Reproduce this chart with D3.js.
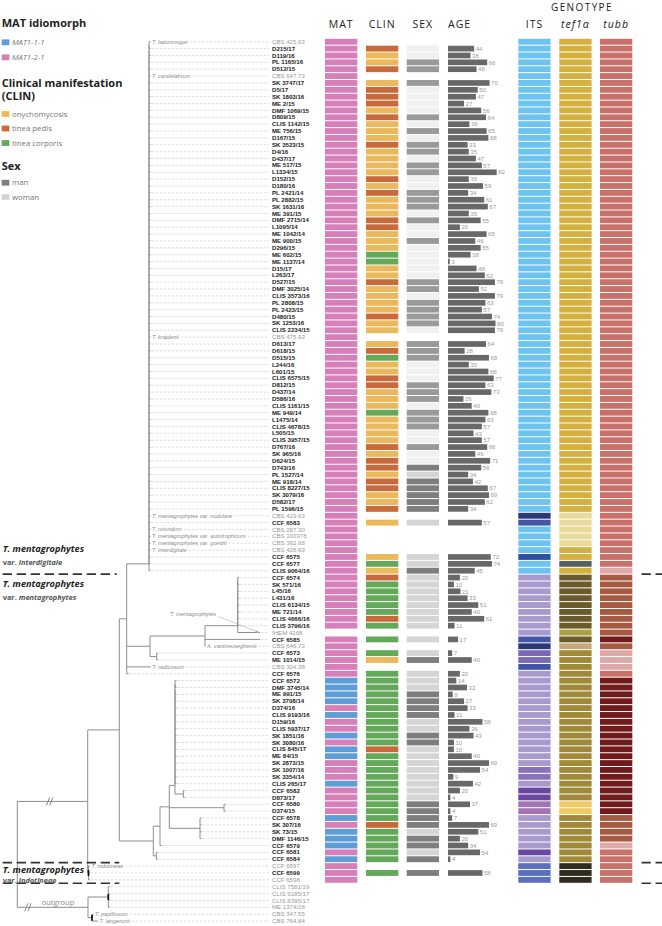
<!DOCTYPE html>
<html><head><meta charset="utf-8">
<script src="https://cdn.jsdelivr.net/npm/d3@7"></script>
<style>body{margin:0;background:#fff}svg{display:block}</style>
</head><body>
<script>
// ---------------- DATA ----------------
const strains = [
"CBS 425.63","D215/17","D119/16","PL 1165/16","D512/15","CBS 647.73","SK 3747/17","D5/17","SK 1803/16","ME 2/15",
"DMF 1069/15","D809/15","CLIS 1142/15","ME 756/15","D167/15","SK 3523/15","D4/16","D437/17","ME 517/15","L1334/15",
"D152/15","D180/16","PL 2421/14","PL 2882/15","SK 1631/16","ME 391/15","DMF 2715/14","L1095/14","ME 1042/14","ME 900/15",
"D296/15","ME 602/15","ME 1137/14","D15/17","L263/17","D527/15","DMF 3025/14","CLIS 3573/16","PL 2808/15","PL 2423/15",
"D480/15","SK 1253/16","CLIS 2234/15","CBS 475.93","D613/17","D618/15","D515/15","L244/16","L601/15","CLIS 6575/15",
"D812/15","D437/14","D586/16","CLIS 1161/15","ME 949/14","L1475/14","CLIS 4678/15","L505/15","CLIS 3957/15","D767/16",
"SK 965/16","D624/15","D743/16","PL 1527/14","ME 918/14","CLIS 8227/15","SK 3079/16","D582/17","PL 1596/15","CBS 429.63",
"CCF 6583","CBS 287.30","CBS 100378","CBS 392.68","CBS 428.63","CCF 6575","CCF 6577","CLIS 9064/16","CCF 6574","SK 571/16",
"L45/16","L431/16","CLIS 6134/15","ME 721/14","CLIS 4666/16","CLIS 3796/16","IHEM 4268","CCF 6585","CBS 646.73","CCF 6573",
"ME 1014/15","CBS 304.38","CCF 6576","CCF 6572","DMF 3745/14","ME 991/15","SK 3708/14","D374/16","CLIS 9193/16","D159/16",
"CLIS 5937/17","SK 1851/16","SK 3080/16","CLIS 845/17","ME 84/15","SK 2873/15","SK 1007/16","SK 3354/14","CLIS 265/17","CCF 6582",
"D873/17","CCF 6580","D374/15","CCF 6578","SK 307/16","SK 73/15","DMF 1146/15","CCF 6579","CCF 6581","CCF 6584",
"CCF 6597","CCF 6599","CCF 6598","CLIS 7581/19","CLIS 9185/17","CLIS 8395/17","ME 1374/18","CBS 347.55","CBS 764.84"];

const refStrains = ["CBS 425.63","CBS 647.73","CBS 475.93","CBS 429.63","CBS 287.30","CBS 100378","CBS 392.68","CBS 428.63",
"IHEM 4268","CBS 646.73","CBS 304.38","CCF 6597","CCF 6598","CLIS 7581/19","CLIS 9185/17","CLIS 8395/17","ME 1374/18","CBS 347.55","CBS 764.84"];

const speciesNames = [["CBS 425.63","T. batonrougei"],["CBS 647.73","T. candelabrum"],["CBS 475.93","T. krajdenii"],
["CBS 429.63","T. mentagrophytes var. nodulare"],["CBS 287.30","T. rotundum"],["CBS 100378","T. mentagrophytes var. autotrophicum"],
["CBS 392.68","T. mentagrophytes var. goetzii"],["CBS 428.63","T. interdigitale"],["CBS 646.73","A. vanbreuseghemii"],
["CBS 304.38","T. radicosum"],["CCF 6597","T. indotineae"],["CBS 347.55","T. papillosum"],["CBS 764.84","T. langeronii"]];
const pointerNote = ["IHEM 4268","T. mentagrophytes"];

// MAT: 1 = MAT1-1-1, 2 = MAT1-2-1
const mat = ["2222222222","2222222222","2222222222","2222222222","2222222222","2222222222","2222222222","2222222222",
"222222-222","2221111212","2121122212","2221211121","222------"].join("");
// CLIN: o onychomycosis, p tinea pedis, c tinea corporis
const clin = ["-poop-oppp","opooopoooo","popoooppoo","occoopoooo","poo-opcoop","pooocoooop","oppoppoop-","o----ocopc",
"ccccpc-c-c","o-cccccccc","cccpcccccc","ccccpccccc","-c-------"].join("");
// SEX: m man, w woman
const sex = ["-wwmm-mwww","wmwmwmmwmm","wwmmmwmwwm","wwwwwmmwmm","mmw-mmmwww","mmmwmmmwwm","wwmwmmmmm-","w----wwmww",
"wwwwww-w-w","m-wwwmmmmw","wmmwwwwwww","wmmmmwmmwm","-m-------"].join("");
const age = [null,44,38,66,48,null,70,50,47,27, 56,64,36,65,68,33,35,47,57,82, 35,59,34,61,67,35,55,20,65,46,
55,38,3,48,62,79,52,79,63,57, 74,80,79,null,64,28,69,35,68,77, 63,73,26,40,68,63,57,43,57,66,
46,71,56,34,42,67,69,62,34,null, 57,null,null,null,null,72,74,45,20,10, 21,33,51,40,61,11,null,17,null,7,
40,null,20,14,32,8,27,33,11,58, 36,43,10,10,40,69,54,9,42,20, 4,37,4,7,69,51,20,34,54,4,
null,58,null,null,null,null,null,null,null];
// genotypes (letter = genotype class)
const its = ["aaaaaaaaaa","aaaaaaaaaa","aaaaaaaaaa","aaaaaaaaaa","aaaaaaaaaa","aaaaaaaaaa","aaaaaaaaan","iaaaabaall",
"lllllllinm","millllllll","llllllvvld","drrllllldl","qqq------"].join("");
const tef = ["gggggggggg","gggggggggg","gggggggggg","gggggggggg","gggggggggg","gggggggggg","gggggggggp","ppppggkgoo",
"ooooooyotu","uuuuuuuuuu","uuuuuuuuuu","ubbuuuuuuu","zzz------"].join("");
const tubb = ["ssssssssss","ssssssssss","ssssssssss","ssssssssss","ssssssssss","ssssssssss","ssssssssss","ssssssslee",
"eeeeeeexel","llsxxxxxxx","xxxxxxxxxx","xxxeeeelss","sss------"].join("");

const cladeBreaks = ["CLIS 9064/16","CCF 6584","CCF 6598"];
// well-supported clades (first and last member)
const supportedClades = [["CCF 6597","CCF 6598"],["CLIS 7581/19","ME 1374/18"],["CBS 347.55","CBS 764.84"]];

// phylogeny (branch lengths, leaves without length get a short tip)
const newick = "((((('CBS 425.63','D215/17','D119/16','PL 1165/16','D512/15','CBS 647.73','SK 3747/17','D5/17','SK 1803/16','ME 2/15','DMF 1069/15','D809/15','CLIS 1142/15','ME 756/15','D167/15','SK 3523/15','D4/16','D437/17','ME 517/15','L1334/15','D152/15','D180/16','PL 2421/14','PL 2882/15','SK 1631/16','ME 391/15','DMF 2715/14','L1095/14','ME 1042/14','ME 900/15','D296/15','ME 602/15','ME 1137/14','D15/17','L263/17','D527/15','DMF 3025/14','CLIS 3573/16','PL 2808/15','PL 2423/15','D480/15','SK 1253/16','CLIS 2234/15','CBS 475.93','D613/17','D618/15','D515/15','L244/16','L601/15','CLIS 6575/15','D812/15','D437/14','D586/16','CLIS 1161/15','ME 949/14','L1475/14','CLIS 4678/15','L505/15','CLIS 3957/15','D767/16','SK 965/16','D624/15','D743/16','PL 1527/14','ME 918/14','CLIS 8227/15','SK 3079/16','D582/17','PL 1596/15','CBS 429.63','CCF 6583','CBS 287.30','CBS 100378','CBS 392.68','CBS 428.63','CCF 6575','CCF 6577','CLIS 9064/16'):0.223,"
 + "((('CCF 6574','SK 571/16','L45/16','L431/16','CLIS 6134/15','ME 721/14','CLIS 4666/16','CLIS 3796/16','IHEM 4268':0.223):0.327,'CCF 6585':0.55,'CBS 646.73':0.005):0.55,('CCF 6573','ME 1014/15'):0.067):0.233,'CBS 304.38':0.24,'CCF 6576':0.02):0.074,"
 + "(((('CCF 6572','DMF 3745/14','ME 991/15','SK 3708/14','D374/16','CLIS 9193/16','D159/16','CLIS 5937/17','SK 1851/16','SK 3080/16','CLIS 845/17','ME 84/15','SK 2873/15','SK 1007/16','SK 3354/14','CLIS 265/17',('CCF 6582','D873/17'):0.083):0.057,('CCF 6580','D374/15'):0.547,('CCF 6578','SK 307/16','SK 73/15','DMF 1146/15'):0.307):0.093,'CCF 6579'):0.067,('CCF 6581','CCF 6584'):0.03):0.34):0.316,"
 + "('CCF 6597','CCF 6599','CCF 6598'):0.008):0.704,"
 + "(('CLIS 7581/19','CLIS 9185/17','CLIS 8395/17','ME 1374/18'):0.203,('CBS 347.55','CBS 764.84':0.06):0.04):0.707);";
const TIP = 0.015;

// ---------------- STYLE ----------------
const W = 662, H = 926;
const FONT = "'Open Sans', 'DejaVu Sans', sans-serif";
const ROWFONT = "'Liberation Sans', Arial, sans-serif";
const palMAT = {"1":"#5f9dd8","2":"#d67fb8"};
const palCLIN = {o:"#ebb95c", p:"#c96a3c", c:"#64a85a"};
const palSEX = {m:"#7e7e7e", w:"#d5d5d5"};
const palSEXfaded = {m:"#9a9a9a", w:"#f0f0f0"};
const SEX_FADE_BEFORE = "D743/16";
const palITS = {a:"#6ec3f1", b:"#2f50a0", n:"#2b3a77", i:"#4455a6", m:"#7a69b3", l:"#a99acd", v:"#8a72bb", d:"#6947a1", r:"#a274b4", q:"#5b6ec0"};
const palTEF = {g:"#d4b13e", p:"#e9da9c", k:"#56605b", o:"#6b5a2b", y:"#a9a13f", t:"#c9a97a", u:"#a08939", b:"#f1c862", z:"#2f2c1e"};
const palTUBB = {s:"#c8706a", l:"#dcaaa8", e:"#a55b42", x:"#711a1b"};

const svg = d3.select("body").append("svg").attr("width", W).attr("height", H)
  .style("font-family", FONT);

// ---------------- SCALES ----------------
const yS = d3.scaleBand().domain(strains).range([38.3, 924.5]);
const bw = yS.bandwidth();
const yc = s => yS(s) + bw / 2;
const xT = d3.scaleLinear().domain([0, 1]).range([17.3, 117.3]);
const xAge = d3.scaleLinear().domain([0, 82]).range([448, 496.7]);
const LABEL_X = 272, LEADER_END = 269;

// ---------------- TREE ----------------
function parseNewick(s) {
  let i = 0;
  function node() {
    const n = {};
    if (s[i] === "(") {
      i++; n.children = [node()];
      while (s[i] === ",") { i++; n.children.push(node()); }
      i++;
    }
    let name = "";
    if (s[i] === "'") { i++; while (s[i] !== "'") name += s[i++]; i++; }
    else while (i < s.length && !",():;".includes(s[i])) name += s[i++];
    n.name = name.trim();
    if (s[i] === ":") { i++; let num = ""; while (i < s.length && !",();".includes(s[i])) num += s[i++]; n.len = +num; }
    else n.len = n.children ? 0 : TIP;
    return n;
  }
  return node();
}
// unresolved clades are drawn as zero-length ladders
function ladder(n) {
  if (!n.children) return n;
  n.children.forEach(ladder);
  if (n.children.length >= 5) {
    let acc = {children: [n.children[0], n.children[1]], len: 0};
    for (let k = 2; k < n.children.length; k++) acc = {children: [acc, n.children[k]], len: 0};
    n.children = acc.children;
  }
  return n;
}
const root = d3.hierarchy(ladder(parseNewick(newick)));
root.each(n => { n.dist = n.parent ? n.parent.dist + n.data.len : 0; n.px = xT(n.dist); });
root.eachAfter(n => {
  n.py = n.children ? (n.children[0].py + n.children[n.children.length - 1].py) / 2 : yc(n.data.name);
});

const gTree = svg.append("g").attr("stroke", "#8e8e8e").attr("stroke-width", 1).attr("fill", "none");
root.descendants().filter(n => n.children).forEach(n => {
  const ys = n.children.map(c => c.py);
  gTree.append("line").attr("x1", n.px).attr("x2", n.px).attr("y1", d3.min(ys)).attr("y2", d3.max(ys));
  n.children.forEach(c => gTree.append("line").attr("x1", n.px).attr("x2", c.px).attr("y1", c.py).attr("y2", c.py));
});
// support marks
const leafByName = new Map(root.leaves().map(l => [l.data.name, l]));
supportedClades.forEach(([a, b]) => {
  const path = leafByName.get(a).path(leafByName.get(b));
  const lca = path.reduce((m, n) => (n.depth < m.depth ? n : m));
  svg.append("line").attr("x1", lca.px).attr("x2", lca.px).attr("y1", lca.py - 3).attr("y2", lca.py + 3)
    .attr("stroke", "#111").attr("stroke-width", 1.7);
});
// break marks on the two basal branches
[[root.children[0], 0.46], [root.children[1], 0.15]].forEach(([c, f]) => {
  const bx = root.px + (c.px - root.px) * f, by = c.py;
  [-1.6, 1.6].forEach(dx => svg.append("line").attr("x1", bx + dx - 1.6).attr("y1", by + 4)
    .attr("x2", bx + dx + 1.6).attr("y2", by - 4).attr("stroke", "#777").attr("stroke-width", 0.9));
});
svg.append("text").attr("x", root.px + 24.4).attr("y", root.children[1].py - 2)
  .attr("font-size", 7.5).attr("fill", "#8a8a8a").text("outgroup");

// leaves: species names, leaders, strain labels
const spMap = new Map(speciesNames);
const refSet = new Set(refStrains);
const gLeaf = svg.append("g").style("font-family", ROWFONT);
root.leaves().forEach(l => {
  const s = l.data.name, y = l.py;
  let startX = l.px + 1;
  if (spMap.has(s)) {
    const t = gLeaf.append("text").attr("x", l.px + 1.5).attr("y", y + 1.9).attr("font-size", 5.6)
      .attr("font-style", "italic").attr("fill", "#8a8a8a").text(spMap.get(s));
    startX = l.px + 1.5 + t.node().getComputedTextLength() + 2;
  }
  if (startX < LEADER_END)
    gLeaf.append("line").attr("x1", startX).attr("x2", LEADER_END).attr("y1", y).attr("y2", y)
      .attr("stroke", "#c4c4c4").attr("stroke-width", 0.6).attr("stroke-dasharray", "2.4,1.6");
  gLeaf.append("text").attr("x", LABEL_X).attr("y", y + 2.1).attr("font-size", 6.1)
    .attr("font-weight", refSet.has(s) ? 400 : 700).attr("fill", refSet.has(s) ? "#9a9a9a" : "#222").text(s);
});
// pointer annotation
{
  const tip = leafByName.get(pointerNote[0]);
  const t = svg.append("text").attr("x", 170).attr("y", tip.py - 16.5).attr("font-size", 5.6)
    .style("font-family", ROWFONT).attr("font-style", "italic").attr("fill", "#8a8a8a").text(pointerNote[1]);
  const x0 = 170 + t.node().getComputedTextLength() + 2, y0 = tip.py - 16;
  svg.append("line").attr("x1", x0).attr("y1", y0).attr("x2", tip.px - 2).attr("y2", tip.py - 0.5)
    .attr("stroke", "#aaa").attr("stroke-width", 0.6);
  svg.append("path").attr("d", `M${tip.px - 4},${tip.py - 2.2}L${tip.px},${tip.py}L${tip.px - 4.3},${tip.py + 0.8}Z`).attr("fill", "#aaa");
}

// ---------------- COLUMNS ----------------
const colW = 32.3;
const columns = [
  {x: 325, codes: mat, pal: () => palMAT},
  {x: 366, codes: clin, pal: () => palCLIN},
  {x: 406.7, codes: sex, pal: i => (i < strains.indexOf(SEX_FADE_BEFORE) ? palSEXfaded : palSEX)},
  {x: 518.3, codes: its, pal: () => palITS},
  {x: 559.3, codes: tef, pal: () => palTEF},
  {x: 600, codes: tubb, pal: () => palTUBB}
];
columns.forEach(c => {
  svg.append("g").selectAll("rect")
    .data(strains.map((s, i) => ({s, i, k: c.codes[i]})).filter(d => c.pal(d.i)[d.k]))
    .join("rect").attr("x", c.x).attr("width", colW)
    .attr("y", d => yS(d.s) + 0.5).attr("height", bw - 1)
    .attr("fill", d => c.pal(d.i)[d.k]);
});
// age
const ageData = strains.map((s, i) => ({s, v: age[i]})).filter(d => d.v != null);
svg.append("g").selectAll("rect").data(ageData).join("rect")
  .attr("x", xAge(0)).attr("y", d => yS(d.s) + 0.6).attr("height", bw - 1.2)
  .attr("width", d => xAge(d.v) - xAge(0)).attr("fill", "#686868");
svg.append("g").style("font-family", ROWFONT).selectAll("text").data(ageData).join("text")
  .attr("x", d => xAge(d.v) + 1.5).attr("y", d => yc(d.s) + 2.2).attr("font-size", 6.1)
  .attr("fill", "#9a9a9a").text(d => d.v);

// headers
const hdr = svg.append("g").attr("font-size", 10.5).attr("fill", "#222").attr("text-anchor", "middle").attr("letter-spacing", 1);
[["MAT", 325 + colW / 2], ["CLIN", 366 + colW / 2], ["SEX", 406.7 + colW / 2], ["ITS", 518.3 + colW / 2]]
  .forEach(([t, x]) => hdr.append("text").attr("x", x).attr("y", 28).text(t));
hdr.append("text").attr("x", xAge(0)).attr("y", 28).attr("text-anchor", "start").text("AGE");
hdr.append("text").attr("x", 559.3 + colW / 2).attr("y", 28).attr("font-style", "italic").text("tef1\u03b1");
hdr.append("text").attr("x", 600 + colW / 2).attr("y", 28).attr("font-style", "italic").text("tubb");
hdr.append("text").attr("x", 582).attr("y", 10.5).attr("font-size", 10).attr("letter-spacing", 1.4).text("GENOTYPE");

// clade separators and labels
const sepY = cladeBreaks.map(s => yc(s) + bw / 2);
sepY.forEach((y, k) => {
  svg.append("line").attr("x1", 2.7).attr("x2", k === 0 ? 116.7 : 119.3).attr("y1", y).attr("y2", y)
    .attr("stroke", "#333").attr("stroke-width", 1.6).attr("stroke-dasharray", "9.3,4.7");
  svg.append("line").attr("x1", 641.5).attr("x2", 662).attr("y1", y).attr("y2", y)
    .attr("stroke", "#333").attr("stroke-width", 1.6).attr("stroke-dasharray", "9.3,4.7");
});
function groupLabel(y1, y2, variety, big) {
  svg.append("text").attr("x", 2.7).attr("y", y1).attr("font-size", big).attr("font-weight", 700)
    .attr("font-style", "italic").attr("fill", "#222").text("T. mentagrophytes");
  const t = svg.append("text").attr("x", 2.7).attr("y", y2).attr("font-size", 7.4).attr("font-weight", 700).attr("fill", "#555");
  t.append("tspan").text("var. ");
  t.append("tspan").attr("font-style", "italic").text(variety);
}
groupLabel(sepY[0] - 22.5, sepY[0] - 9.5, "interdigitale", 9.2);
groupLabel(sepY[0] + 13, sepY[0] + 26, "mentagrophytes", 9.2);
groupLabel(sepY[1] + 10.5, sepY[1] + 20, "indotineae", 9.2);

// ---------------- LEGEND ----------------
const lg = svg.append("g");
function lgHead(text, y) {
  lg.append("text").attr("x", 1.7).attr("y", y).attr("font-size", 11).attr("font-weight", 700).attr("fill", "#222").text(text);
}
function lgItem(color, text, yc0, italic) {
  lg.append("rect").attr("x", 1.7).attr("y", yc0 - 2.9).attr("width", 7.7).attr("height", 5.8).attr("fill", color);
  lg.append("text").attr("x", 12).attr("y", yc0 + 2.6).attr("font-size", 7.8).attr("fill", "#777")
    .attr("font-style", italic ? "italic" : "normal").text(text);
}
lgHead("MAT idiomorph", 27);
lgItem(palMAT["1"], "MAT1-1-1", 42.3, true);
lgItem(palMAT["2"], "MAT1-2-1", 57.3, true);
lgHead("Clinical manifestation", 86.5);
lgHead("(CLIN)", 100);
lgItem(palCLIN.o, "onychomycosis", 114);
lgItem(palCLIN.p, "tinea pedis", 128.5);
lgItem(palCLIN.c, "tinea corporis", 143);
lgHead("Sex", 170);
lgItem(palSEX.m, "man", 182.7);
lgItem(palSEX.w, "woman", 197);
</script>
</body></html>
